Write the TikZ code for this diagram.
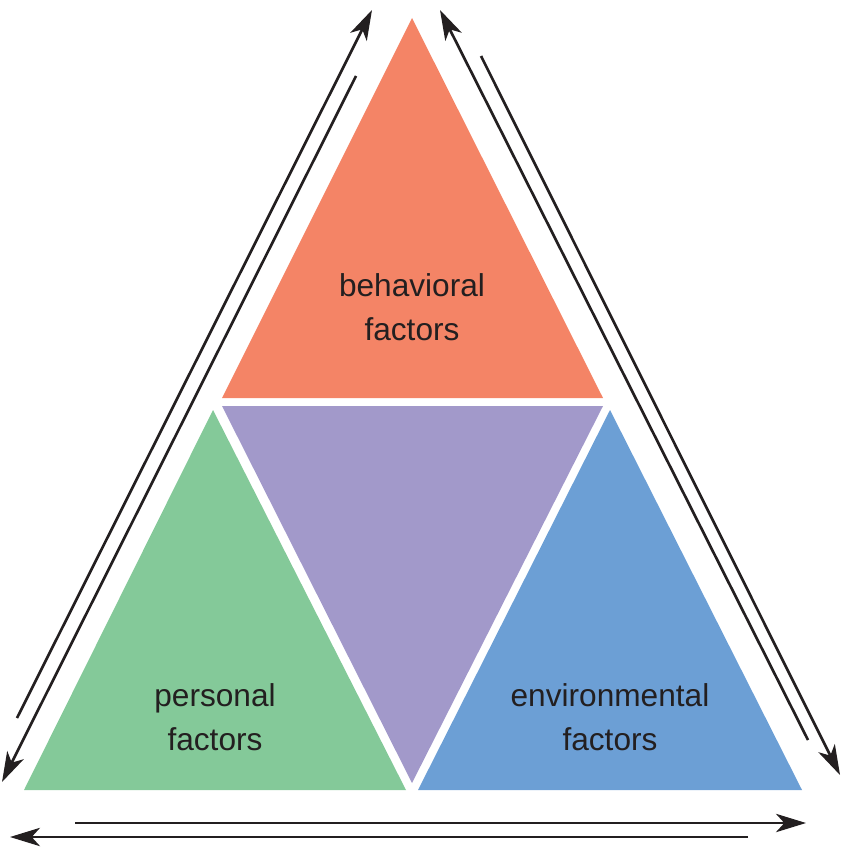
\documentclass[tikz,border=0pt]{standalone}
\usepackage{fontspec}
\setmainfont{Liberation Sans}
\usetikzlibrary{arrows.meta}
\definecolor{behav}{RGB}{244,132,102}
\definecolor{pers}{RGB}{132,201,153}
\definecolor{envir}{RGB}{108,159,213}
\definecolor{midv}{RGB}{162,153,202}
\definecolor{ink}{RGB}{35,31,32}
\tikzset{
  part/.style={draw=none},
  lbl/.style={align=center, text=ink, font=\fontsize{27}{38}\selectfont},
  flow/.style={draw=ink, line width=0.08cm, -{Stealth[length=0.9cm, width=0.55cm, inset=0.25cm]}}
}
\begin{document}
\begin{tikzpicture}[x=0.03cm, y=-0.03cm]
  \useasboundingbox (0,0) rectangle (842,850);

  \fill[behav] (412,18) -- (222,398) -- (603,398) -- cycle;
  \fill[pers] (213,410) -- (24,790) -- (406,790) -- cycle;
  \fill[envir] (610,410) -- (418,790) -- (802,790) -- cycle;
  \fill[midv] (222,406) -- (603,406) -- (412,783) -- cycle;

  \node[lbl] (behavior) at (412,307) {behavioral\\factors};
  \node[lbl] (person) at (215,717) {personal\\factors};
  \node[lbl] (environ) at (610,717) {environmental\\factors};

  % left side
  \coordinate (l1) at (17,718);  \coordinate (l2) at (372,10);
  \coordinate (l3) at (356,76);  \coordinate (l4) at (2,782);
  \draw[flow] (l1) -- (l2);
  \draw[flow] (l3) -- (l4);
  % right side
  \coordinate (r1) at (808,740); \coordinate (r2) at (440,10);
  \coordinate (r3) at (481,56);  \coordinate (r4) at (840,775);
  \draw[flow] (r1) -- (r2);
  \draw[flow] (r3) -- (r4);
  % bottom
  \coordinate (b1) at (75,823);  \coordinate (b2) at (806,823);
  \coordinate (b3) at (748,837); \coordinate (b4) at (10,837);
  \draw[flow] (b1) -- (b2);
  \draw[flow] (b3) -- (b4);
\end{tikzpicture}
\end{document}
